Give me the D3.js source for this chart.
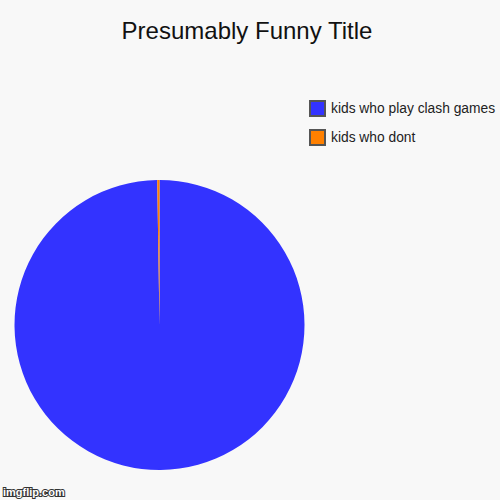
<!DOCTYPE html>
<html>
<head>
<meta charset="utf-8">
<script src="https://cdn.jsdelivr.net/npm/d3@7"></script>
<style>
  html, body { margin: 0; padding: 0; background: #f8f8f8; }
  svg { display: block; font-family: "Liberation Sans", Arial, sans-serif; }
</style>
</head>
<body>
<svg id="chart"></svg>
<script>
const title = "Presumably Funny Title";
const labels = ["kids who play clash games", "kids who dont"];
const values = [99.75, 0.25];
const colors = ["#3333ff", "#ff8000"];

const width = 500, height = 500;
const cx = 159.5, cy = 325, radius = 145;

const svg = d3.select("#chart")
    .attr("width", width)
    .attr("height", height);

svg.append("rect")
    .attr("width", width)
    .attr("height", height)
    .attr("fill", "#f8f8f8");

svg.append("text")
    .attr("x", 247)
    .attr("y", 39)
    .attr("text-anchor", "middle")
    .attr("font-size", 24)
    .attr("fill", "#111")
    .text(title);

// pie, clockwise from 12 o'clock
const pie = d3.pie().sort(null).value(d => d);
const arc = d3.arc().innerRadius(0).outerRadius(radius);

svg.append("g")
    .attr("transform", `translate(${cx}, ${cy})`)
    .selectAll("path")
    .data(pie(values))
    .enter()
    .append("path")
    .attr("d", arc)
    .attr("fill", (d, i) => colors[i]);

// legend
const legend = svg.append("g")
    .attr("transform", "translate(309, 100)");

const item = legend.selectAll("g")
    .data(labels)
    .enter()
    .append("g")
    .attr("transform", (d, i) => `translate(0, ${i * 29})`);

item.append("rect")
    .attr("x", 1)
    .attr("y", 1)
    .attr("width", 15)
    .attr("height", 15)
    .attr("fill", (d, i) => colors[i])
    .attr("stroke", "#555")
    .attr("stroke-width", 2);

item.append("text")
    .attr("x", 22)
    .attr("y", 8.5)
    .attr("dy", "0.35em")
    .attr("font-size", 13.8)
    .attr("fill", "#222")
    .text(d => d);

// watermark
svg.append("text")
    .attr("x", 3)
    .attr("y", 496)
    .attr("font-size", 11)
    .attr("font-weight", "bold")
    .attr("fill", "#fff")
    .attr("stroke", "#333")
    .attr("stroke-width", 2)
    .attr("paint-order", "stroke")
    .text("imgflip.com");
</script>
</body>
</html>
